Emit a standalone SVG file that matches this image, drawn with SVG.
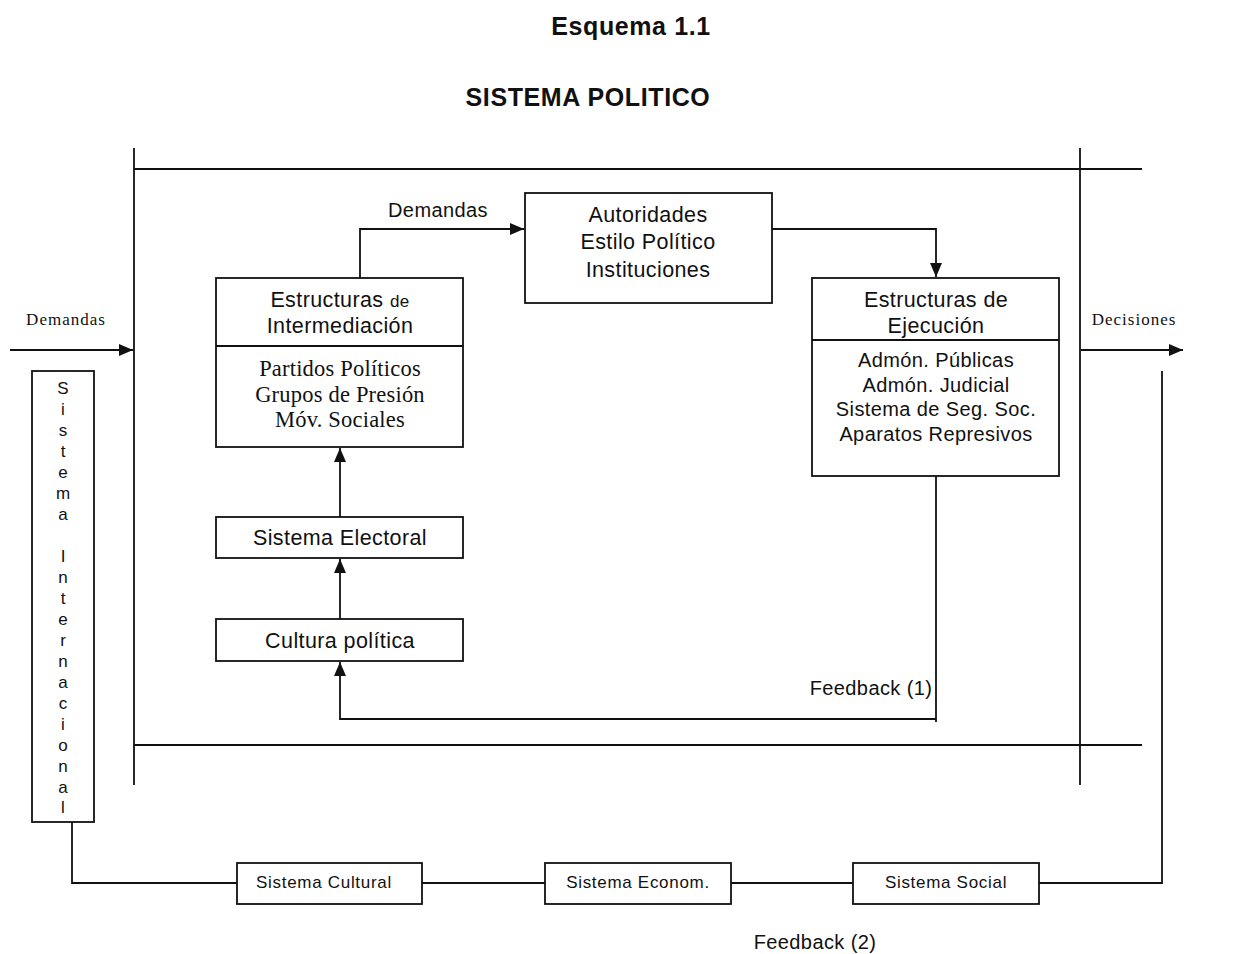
<svg xmlns="http://www.w3.org/2000/svg" width="1246" height="954" viewBox="0 0 1246 954">
<defs>
<marker id="ah" markerWidth="14" markerHeight="12" refX="14" refY="6" orient="auto" markerUnits="userSpaceOnUse">
<path d="M0,0 L14,6 L0,12 Z" fill="#111"/>
</marker>
<style>
.ln{stroke:#111;stroke-width:1.8;fill:none}
.bx{stroke:#111;stroke-width:1.8;fill:#fff}
.s{font-family:"Liberation Sans",Arial,sans-serif;fill:#111;text-anchor:middle}
.r{font-family:"Liberation Serif","Times New Roman",serif;fill:#111;text-anchor:middle}
.t{font-size:21.5px;letter-spacing:0.4px}
.c{font-size:20px;letter-spacing:0.4px}
.sm{font-size:17px;letter-spacing:0.7px}
.h{font-size:25px;font-weight:bold;letter-spacing:0.6px}
.v{font-size:17px}
</style>
</defs>
<rect width="1246" height="954" fill="#fff"/>
<text class="s h" x="631" y="35">Esquema 1.1</text>
<text class="s h" x="588" y="106">SISTEMA POLITICO</text>

<g id="frame">
<line class="ln" x1="134" y1="148" x2="134" y2="785"/>
<line class="ln" x1="1080" y1="148" x2="1080" y2="785"/>
<line class="ln" x1="134" y1="169" x2="1142" y2="169"/>
<line class="ln" x1="134" y1="745" x2="1142" y2="745"/>
</g>

<g id="connectors">
<line class="ln" x1="10" y1="350" x2="133" y2="350" marker-end="url(#ah)"/>
<line class="ln" x1="1081" y1="350" x2="1183" y2="350" marker-end="url(#ah)"/>
<polyline class="ln" points="360,278 360,229 524,229" marker-end="url(#ah)"/>
<polyline class="ln" points="772,229 936,229 936,277" marker-end="url(#ah)"/>
<line class="ln" x1="340" y1="517" x2="340" y2="448" marker-end="url(#ah)"/>
<line class="ln" x1="340" y1="619" x2="340" y2="559" marker-end="url(#ah)"/>
<polyline class="ln" points="936,476 936,722"/>
<polyline class="ln" points="936,719 340,719 340,662" marker-end="url(#ah)"/>
<polyline class="ln" points="72,822 72,883 237,883"/>
<line class="ln" x1="422" y1="883" x2="545" y2="883"/>
<line class="ln" x1="731" y1="883" x2="853" y2="883"/>
<polyline class="ln" points="1039,883 1162,883 1162,371"/>
</g>

<text class="r" x="66" y="325" style="font-size:17px;letter-spacing:1px">Demandas</text>
<text class="r" x="1134" y="325" style="font-size:17px;letter-spacing:1px">Decisiones</text>
<text class="s c" x="438" y="217">Demandas</text>
<text class="s c" x="871" y="695">Feedback (1)</text>
<text class="s c" x="815" y="949">Feedback (2)</text>

<g id="autoridades">
<rect class="bx" x="525" y="193" width="247" height="110"/>
<text class="s t" x="648" y="222">Autoridades</text>
<text class="s t" x="648" y="249">Estilo Político</text>
<text class="s t" x="648" y="277">Instituciones</text>
</g>

<g id="intermediacion">
<rect class="bx" x="216" y="278" width="247" height="169"/>
<line class="ln" x1="216" y1="346" x2="463" y2="346"/>
<text class="s t" x="340" y="307">Estructuras <tspan style="font-size:17px">de</tspan></text>
<text class="s t" x="340" y="333">Intermediación</text>
<text class="r" x="340" y="376" style="font-size:22.5px;letter-spacing:0.2px">Partidos Políticos</text>
<text class="r" x="340" y="402" style="font-size:22.5px;letter-spacing:0.2px">Grupos de Presión</text>
<text class="r" x="340" y="427" style="font-size:22.5px;letter-spacing:0.2px">Móv. Sociales</text>
</g>

<g id="ejecucion">
<rect class="bx" x="812" y="278" width="247" height="198"/>
<line class="ln" x1="812" y1="340" x2="1059" y2="340"/>
<text class="s t" x="936" y="307">Estructuras de</text>
<text class="s t" x="936" y="333">Ejecución</text>
<text class="s c" x="936" y="367">Admón. Públicas</text>
<text class="s c" x="936" y="392">Admón. Judicial</text>
<text class="s c" x="936" y="416">Sistema de Seg. Soc.</text>
<text class="s c" x="936" y="441">Aparatos Represivos</text>
</g>

<g id="electoral">
<rect class="bx" x="216" y="517" width="247" height="41"/>
<text class="s t" x="340" y="545">Sistema Electoral</text>
</g>

<g id="cultura">
<rect class="bx" x="216" y="619" width="247" height="42"/>
<text class="s t" x="340" y="648">Cultura política</text>
</g>

<g id="internacional">
<rect class="bx" x="32" y="371" width="62" height="451"/>
<g class="s v">
<text x="63" y="394">S</text>
<text x="63" y="415">i</text>
<text x="63" y="436">s</text>
<text x="63" y="457">t</text>
<text x="63" y="478">e</text>
<text x="63" y="499">m</text>
<text x="63" y="520">a</text>
<text x="63" y="562">I</text>
<text x="63" y="583">n</text>
<text x="63" y="604">t</text>
<text x="63" y="625">e</text>
<text x="63" y="646">r</text>
<text x="63" y="667">n</text>
<text x="63" y="688">a</text>
<text x="63" y="709">c</text>
<text x="63" y="730">i</text>
<text x="63" y="751">o</text>
<text x="63" y="772">n</text>
<text x="63" y="793">a</text>
<text x="63" y="813">l</text>
</g>
</g>

<g id="cultural">
<rect class="bx" x="237" y="863" width="185" height="41"/>
<text class="s sm" x="324" y="888">Sistema Cultural</text>
</g>
<g id="economico">
<rect class="bx" x="545" y="863" width="186" height="41"/>
<text class="s sm" x="638" y="888">Sistema Econom.</text>
</g>
<g id="social">
<rect class="bx" x="853" y="863" width="186" height="41"/>
<text class="s sm" x="946" y="888">Sistema Social</text>
</g>
</svg>
